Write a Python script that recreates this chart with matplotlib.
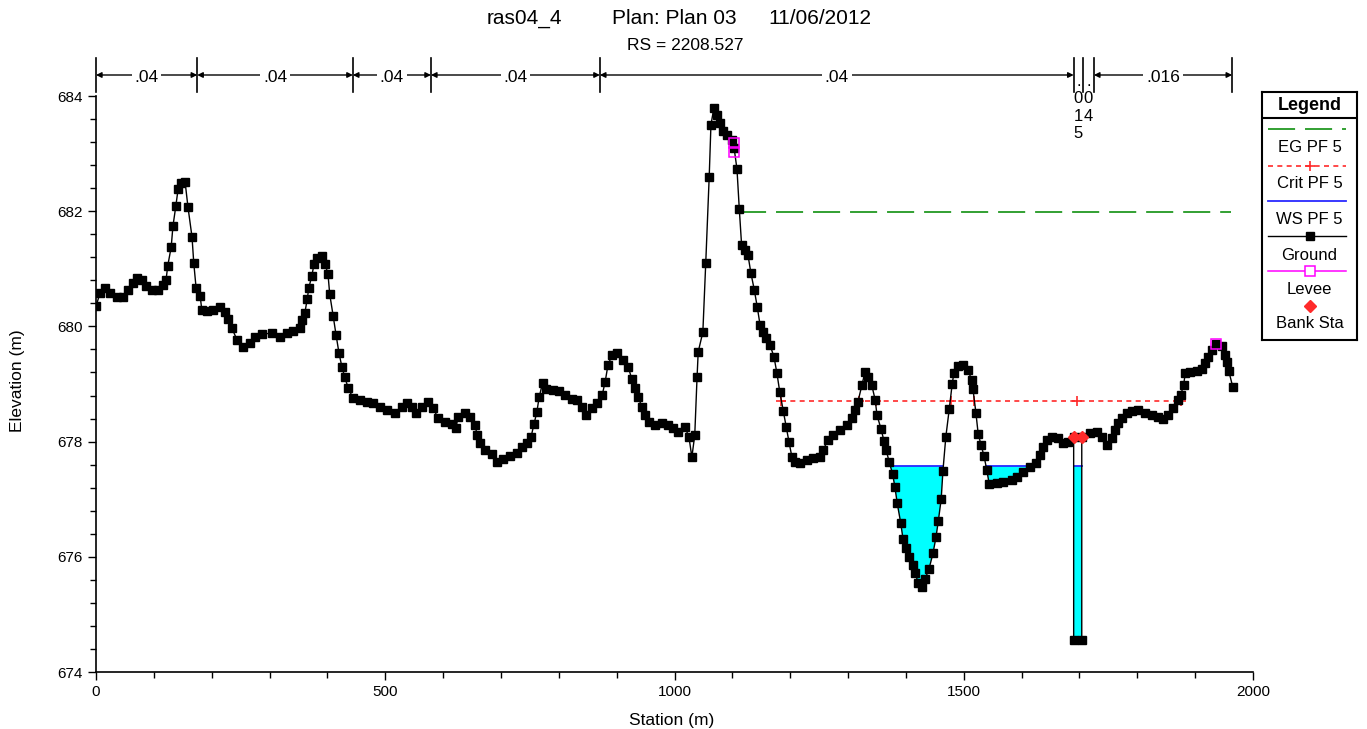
import numpy as np
import matplotlib
matplotlib.use('Agg')
import matplotlib.pyplot as plt

plt.rcParams['font.family'] = ['Liberation Sans', 'DejaVu Sans']

# ground profile (station m, elevation m)
station = [0, 7, 16, 24, 36, 47, 55, 64, 71, 80, 86, 97, 107, 116, 121, 124, 130, 133, 138, 142,
           147, 154, 159, 166, 169, 173, 180, 183, 192, 202, 214, 223, 228, 235, 244, 254, 266, 275,
           287, 304, 318, 330, 341, 353, 356, 361, 365, 368, 373, 377, 382, 391, 396, 401, 404, 410,
           415, 420, 425, 430, 436, 444, 456, 468, 479, 491, 503, 517, 529, 538, 546, 553, 563, 574,
           583, 591, 603, 615, 622, 626, 638, 646, 655, 659, 664, 672, 685, 693, 704, 716, 728, 736,
           745, 752, 757, 762, 766, 772, 778, 790, 800, 811, 823, 831, 840, 847, 857, 866, 875, 880,
           885, 892, 901, 911, 920, 926, 932, 937, 944, 949, 956, 966, 978, 989, 997, 1006, 1018,
           1025, 1030, 1035, 1039, 1041, 1049, 1054, 1060, 1063, 1068, 1073, 1079, 1084, 1090, 1099,
           1103, 1108, 1112, 1116, 1122, 1127, 1132, 1138, 1143, 1148, 1153, 1158, 1165, 1172, 1177,
           1182, 1188, 1193, 1198, 1203, 1208, 1217, 1229, 1240, 1251, 1257, 1265, 1274, 1286, 1298,
           1307, 1312, 1317, 1324, 1329, 1335, 1341, 1347, 1350, 1357, 1362, 1366, 1371, 1377, 1381,
           1385, 1391, 1395, 1400, 1406, 1412, 1416, 1421, 1428, 1433, 1440, 1447, 1452, 1456, 1461,
           1464, 1469, 1475, 1480, 1483, 1490, 1499, 1507, 1514, 1516, 1521, 1525, 1530, 1535, 1540,
           1544, 1557, 1568, 1583, 1592, 1603, 1615, 1625, 1632, 1637, 1644, 1652, 1663, 1672, 1680,
           1690, 1690, 1704, 1704, 1718, 1730, 1739, 1748, 1756, 1762, 1767, 1773, 1782, 1790, 1801,
           1813, 1825, 1836, 1844, 1853, 1862, 1870, 1875, 1880, 1883, 1891, 1903, 1912, 1917, 1922,
           1929, 1936, 1946, 1952, 1955, 1958, 1965]
elevation = [680.35, 680.58, 680.67, 680.58, 680.51, 680.51, 680.63, 680.75, 680.84, 680.80, 680.70,
             680.63, 680.63, 680.72, 680.80, 681.05, 681.38, 681.74, 682.09, 682.39, 682.49, 682.51,
             682.07, 681.55, 681.10, 680.67, 680.53, 680.28, 680.27, 680.28, 680.34, 680.25, 680.13,
             679.97, 679.76, 679.64, 679.71, 679.82, 679.87, 679.88, 679.82, 679.88, 679.92, 679.97,
             680.11, 680.23, 680.47, 680.67, 680.88, 681.08, 681.19, 681.22, 681.08, 680.91, 680.56,
             680.18, 679.85, 679.54, 679.30, 679.12, 678.93, 678.76, 678.72, 678.69, 678.67, 678.60,
             678.55, 678.50, 678.60, 678.67, 678.60, 678.50, 678.60, 678.69, 678.58, 678.41, 678.34,
             678.31, 678.24, 678.43, 678.50, 678.43, 678.29, 678.11, 677.98, 677.85, 677.78, 677.65,
             677.70, 677.75, 677.80, 677.91, 677.98, 678.08, 678.30, 678.51, 678.77, 679.02, 678.91,
             678.90, 678.88, 678.81, 678.74, 678.72, 678.60, 678.46, 678.58, 678.67, 678.81, 679.03,
             679.33, 679.50, 679.54, 679.42, 679.30, 679.09, 678.93, 678.77, 678.60, 678.46, 678.34,
             678.29, 678.32, 678.29, 678.24, 678.17, 678.25, 678.08, 677.73, 678.11, 679.12, 679.56,
             679.90, 681.10, 682.60, 683.50, 683.79, 683.67, 683.53, 683.40, 683.32, 683.24, 683.10,
             682.73, 682.04, 681.41, 681.33, 681.24, 680.93, 680.63, 680.34, 680.02, 679.90, 679.80,
             679.68, 679.47, 679.19, 678.86, 678.53, 678.25, 677.99, 677.73, 677.65, 677.63, 677.68,
             677.72, 677.73, 677.85, 678.03, 678.11, 678.20, 678.29, 678.41, 678.55, 678.69, 678.98,
             679.20, 679.12, 678.98, 678.72, 678.46, 678.22, 678.01, 677.85, 677.65, 677.44, 677.21,
             676.93, 676.59, 676.31, 676.15, 676.00, 675.86, 675.72, 675.55, 675.48, 675.61, 675.79,
             676.07, 676.34, 676.62, 677.00, 677.49, 678.08, 678.57, 679.00, 679.19, 679.31, 679.33,
             679.24, 679.07, 678.91, 678.50, 678.13, 677.94, 677.75, 677.50, 677.26, 677.28, 677.30,
             677.33, 677.39, 677.47, 677.56, 677.63, 677.77, 677.91, 678.03, 678.08, 678.06, 677.98,
             677.99, 678.08, 674.55, 674.55, 678.08, 678.15, 678.17, 678.08, 677.94, 678.06, 678.20,
             678.32, 678.41, 678.50, 678.53, 678.55, 678.50, 678.46, 678.43, 678.39, 678.46, 678.58,
             678.72, 678.81, 678.98, 679.19, 679.21, 679.23, 679.26, 679.36, 679.47, 679.59, 679.69,
             679.66, 679.50, 679.38, 679.23, 678.95]

# water surfaces
eg_stations = [1112, 1962]
eg_elev = 681.98
crit_stations = [1184, 1319, 1348, 1478, 1518, 1696, 1876]
crit_elev = 678.71
ws_elev = 677.58
ws_start = 1112

levee_stations = [1103, 1103, 1936]
levee_elev = [683.18, 683.03, 679.69]
bank_stations = [1690, 1704]
bank_elev = [678.08, 678.08]

# Manning's n bar on top
n_breaks = [0, 175, 444, 579, 871, 1690, 1706, 1725, 1964]
n_values = ['.04', '.04', '.04', '.04', '.04', '.015', '.04', '.016']

legend_labels = ['EG PF 5', 'Crit PF 5', 'WS PF 5', 'Ground', 'Levee', 'Bank Sta']

station = np.array(station, dtype=float)
elevation = np.array(elevation)

W, H = 1367, 729
fig = plt.figure(figsize=(W / 100, H / 100), dpi=100)
ax_l, ax_r, ax_t, ax_b = 96, 1253, 96, 672
ax = fig.add_axes([ax_l / W, 1 - ax_b / H, (ax_r - ax_l) / W, (ax_b - ax_t) / H])

green = '#229922'
red = '#ff2a2a'
blue = '#2a2aff'
magenta = '#ff00ff'
eg_dash = (15, 5.5)
crit_dash = (3, 2.6)

# water fill
ax.fill_between(station, elevation, ws_elev, where=(elevation < ws_elev) & (station > ws_start),
                interpolate=True, color='#00ffff', lw=0, zorder=1)


def wet_spans(x, y, level, xmin):
    spans = []
    start = None
    for i in range(len(x) - 1):
        x0, y0, x1, y1 = x[i], y[i], x[i + 1], y[i + 1]
        if x1 < xmin:
            continue
        if y0 >= level > y1:
            start = x0 + (level - y0) * (x1 - x0) / (y1 - y0)
        elif y0 < level <= y1 and start is not None:
            spans.append((start, x0 + (level - y0) * (x1 - x0) / (y1 - y0)))
            start = None
    return spans


for a, b in wet_spans(station, elevation, ws_elev, ws_start):
    ax.plot([a, b], [ws_elev, ws_elev], color=blue, lw=1.3, zorder=2)

ax.plot(eg_stations, [eg_elev] * 2, color=green, lw=1.3, dashes=eg_dash, zorder=2)
ax.plot(crit_stations, [crit_elev] * len(crit_stations), color=red, lw=1.2,
        dashes=crit_dash, zorder=2)
ax.plot(crit_stations, [crit_elev] * len(crit_stations), ls='none', marker='+',
        color=red, ms=7, mew=1.2, zorder=2)

ax.plot(station, elevation, color='black', lw=1, marker='s', ms=5.2, zorder=3)
ax.plot(levee_stations, levee_elev, ls='none', marker='s', ms=6.5, mfc='none',
        mec=magenta, mew=1.1, zorder=4)
ax.plot(bank_stations, bank_elev, ls='none', marker='D', ms=6, color=red, zorder=5)

ax.set_xlim(0, 2000)
ax.set_ylim(674, 684)
ax.set_xticks([0, 500, 1000, 1500, 2000])
ax.set_xticks(np.arange(0, 2001, 100), minor=True)
ax.set_yticks([674, 676, 678, 680, 682, 684])
ax.set_yticks(np.arange(674, 684.01, 0.4), minor=True)
ax.tick_params(which='major', length=6, width=1, labelsize=11, direction='out')
ax.tick_params(which='minor', length=4, width=1, direction='out')
for s in ['top', 'right']:
    ax.spines[s].set_visible(False)
for s in ['left', 'bottom']:
    ax.spines[s].set_linewidth(1.2)

# Manning's n bar above the plot
hpx = ax_b - ax_t


def ypx(p):
    return (ax_b - p) / hpx


xt = ax.get_xaxis_transform()
for s in n_breaks:
    ax.plot([s, s], [ypx(58), ypx(92)], color='black', lw=1.2, transform=xt, clip_on=False)
y_arrow = ypx(75)
for i, lab in enumerate(n_values):
    a, b = n_breaks[i], n_breaks[i + 1]
    if b - a < 30:
        ax.text((a + b) / 2, ypx(74), '.\n' + '\n'.join(lab[1:]), ha='center', va='top',
                fontsize=12, linespacing=1.2, transform=xt)
        continue
    ax.annotate('', xy=(a, y_arrow), xytext=(b, y_arrow), xycoords=xt,
                arrowprops=dict(arrowstyle='<|-|>', color='black', lw=1, shrinkA=0, shrinkB=0,
                                mutation_scale=8))
    ax.text((a + b) / 2, ypx(78), lab, ha='center', va='center', fontsize=12.5,
            transform=xt, bbox=dict(facecolor='white', edgecolor='none', pad=2))

# titles and axis labels
fig.text(524 / W, 1 - 19 / H, 'ras04_4', ha='center', va='center', fontsize=15)
fig.text(674 / W, 1 - 19 / H, 'Plan: Plan 03', ha='center', va='center', fontsize=15)
fig.text(820 / W, 1 - 19 / H, '11/06/2012', ha='center', va='center', fontsize=15)
fig.text(685 / W, 1 - 45 / H, 'RS = 2208.527', ha='center', va='center', fontsize=12.5)
fig.text(18 / W, 1 - 381 / H, 'Elevation (m)', rotation=90, ha='center', va='center',
         fontsize=12.5)
fig.text(672 / W, 1 - 713 / H, 'Station (m)', ha='center', va='top', fontsize=12.5)

# legend box
lg_l, lg_r, lg_t, lg_b = 1262, 1357, 92, 340
lw_px = lg_r - lg_l
lax = fig.add_axes([lg_l / W, 1 - lg_b / H, lw_px / W, (lg_b - lg_t) / H])
lax.set_xlim(0, lw_px)
lax.set_ylim(lg_b - lg_t, 0)
lax.set_xticks([])
lax.set_yticks([])
for s in lax.spines.values():
    s.set_linewidth(1.5)
lax.plot([0, lw_px], [26, 26], color='black', lw=1.5)
lax.text(lw_px / 2, 13, 'Legend', ha='center', va='center', fontsize=13, fontweight='bold')
x0, xm, x1 = 6, 47.5, 84
lax.plot([x0, x1], [37, 37], color=green, lw=1.3, dashes=eg_dash)
lax.plot([x0, x1], [74, 74], color=red, lw=1.2, dashes=crit_dash)
lax.plot([xm], [74], marker='+', color=red, ms=7, mew=1.2)
lax.plot([x0, x1], [109, 109], color=blue, lw=1.3)
lax.plot([x0, x1], [144, 144], color='black', lw=1)
lax.plot([xm], [144], marker='s', ms=5.2, color='black')
lax.plot([x0, x1], [179, 179], color=magenta, lw=1.1)
lax.plot([xm], [179], marker='s', ms=6.5, mfc='white', mec=magenta, mew=1.1)
lax.plot([xm], [214], marker='D', ms=6, color=red)
for y, lab in zip([55, 91, 127, 163, 198, 232], legend_labels):
    lax.text(xm, y, lab, ha='center', va='center', fontsize=12)

fig.savefig('out.png', dpi=100)
